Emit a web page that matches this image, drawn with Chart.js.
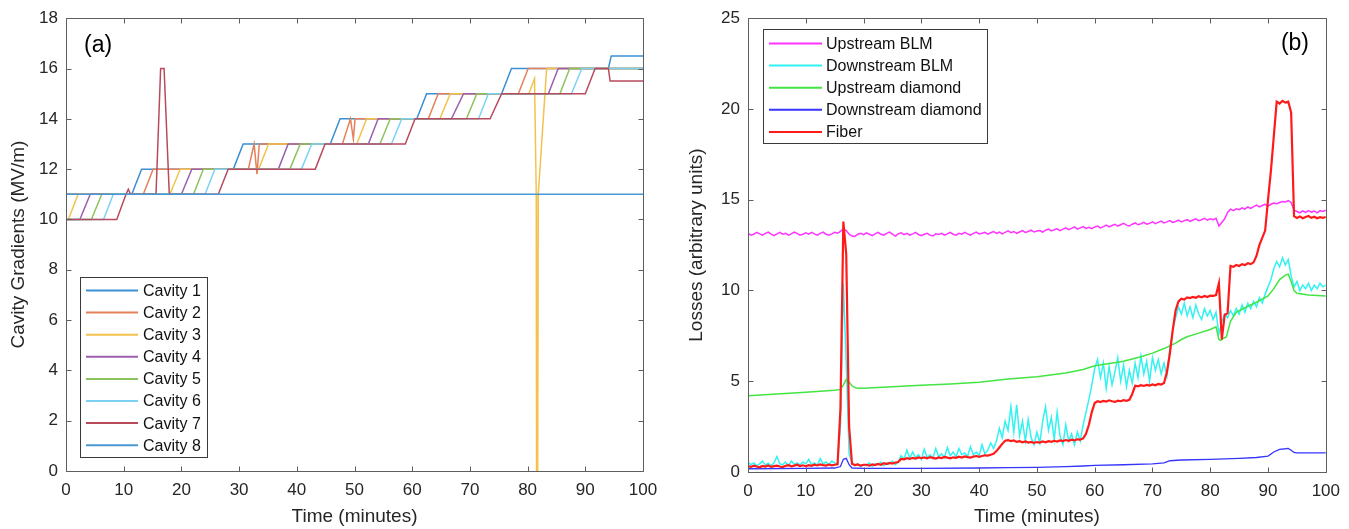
<!DOCTYPE html>
<html><head><meta charset="utf-8">
<script src="https://cdn.jsdelivr.net/npm/chart.js@4.4.1/dist/chart.umd.min.js"></script>
<style>
html,body{margin:0;padding:0;background:#fff;}
#wrap{position:relative;width:1349px;height:529px;overflow:hidden;background:#fff;}
canvas{position:absolute;top:0;}
#c1{left:0;} #c2{left:674px;}
</style></head><body>
<div id="wrap"><canvas id="c1" width="674" height="529"></canvas><canvas id="c2" width="675" height="529"></canvas></div>
<script>
// ---------- Panel (a): cavity gradients ----------
const cavityLabels = ['Cavity 1','Cavity 2','Cavity 3','Cavity 4','Cavity 5','Cavity 6','Cavity 7','Cavity 8'];
const cav1Time = [0,11.4,13.1,29.0,30.7,45.8,47.5,60.8,62.5,75.5,77.2,94.0,94.5,100];
const cav1Grad = [11,11,12,12,13,13,14,14,15,15,16,16,16.5,16.5];
const cav2Time = [0,13.4,15.1,31.6,32.6,33.1,33.5,47.9,49.3,49.8,50.1,62.8,64.5,78.4,80.1,100];
const cav2Grad = [11,11,12,12,13,11.8,13,13,14,13.2,14,14,15,15,16,16];
const cav3Time = [0,0.4,2.1,18.0,19.8,33.4,35.1,50.4,52.1,64.8,66.6,80.2,81.2,81.5,81.55,81.75,81.85,83.3,100];
const cav3Grad = [10,10,11,11,12,12,13,13,14,14,15,15,15.6,11,0,0,11,16,16];
const cav4Time = [0,2.4,4.2,20.0,21.8,36.8,38.5,52.4,54.1,66.8,68.9,83.6,85.3,100];
const cav4Grad = [10,10,11,11,12,12,13,13,14,14,15,15,16,16];
const cav5Time = [0,4.4,6.2,22.1,23.8,38.8,40.6,54.4,56.2,69.4,71.2,85.6,87.3,100];
const cav5Grad = [10,10,11,11,12,12,13,13,14,14,15,15,16,16];
const cav6Time = [0,6.5,8.2,24.1,25.8,40.8,42.6,56.4,58.2,71.5,73.2,87.6,89.4,100];
const cav6Grad = [10,10,11,11,12,12,13,13,14,14,15,15,16,16];
const cav7Time = [0,8.8,10.4,10.8,11.2,15.6,16.4,17.0,17.9,26.4,28.1,43.2,44.9,58.8,60.5,73.5,75.5,90.0,91.7,94.0,94.3,100];
const cav7Grad = [10,10,11,11.2,11,11,16,16,11,11,12,12,13,13,14,14,15,15,16,16,15.5,15.5];
const cav8Time = [0,100];
const cav8Grad = [11,11];
const cavityColors = ['#3b8fd3','#e5805a','#f3c24e','#9c5fae','#8dc35c','#7dd2f4','#b84a5c','#4898d6'];
const gradTicksMin = 0, gradTicksMax = 18, gradTickStep = 2;

// ---------- Panel (b): losses ----------
const lossLabels = ['Upstream BLM','Downstream BLM','Upstream diamond','Downstream diamond','Fiber'];
const lossTime = [
0,0.5,1,1.5,2,2.5,3,3.5,4,4.5,5,5.5,6,6.5,7,7.5,8,8.5,9,9.5,10,
10.5,11,11.5,12,12.5,13,13.5,14,14.5,15,15.5,16,16.5,17,17.5,18,18.5,19,19.5,20,
20.5,21,21.5,22,22.5,23,23.5,24,24.5,25,25.5,26,26.5,27,27.5,28,28.5,29,29.5,30,
30.5,31,31.5,32,32.5,33,33.5,34,34.5,35,35.5,36,36.5,37,37.5,38,38.5,39,39.5,40,
40.5,41,41.5,42,42.5,43,43.5,44,44.5,45,45.5,46,46.5,47,47.5,48,48.5,49,49.5,50,
50.5,51,51.5,52,52.5,53,53.5,54,54.5,55,55.5,56,56.5,57,57.5,58,58.5,59,59.5,60,
60.5,61,61.5,62,62.5,63,63.5,64,64.5,65,65.5,66,66.5,67,67.5,68,68.5,69,69.5,70,
70.5,71,71.5,72,72.5,73,73.5,74,74.5,75,75.5,76,76.5,77,77.5,78,78.5,79,79.5,80,
80.5,81,81.5,82,82.5,83,83.5,84,84.5,85,85.5,86,86.5,87,87.5,88,88.5,89,89.5,90,
90.5,91,91.5,92,92.5,93,93.5,94,94.5,95,95.5,96,96.5,97,97.5,98,98.5,99,99.5,100];
const upstreamBLM = [
13.15,13.05,13.1,13.2,13.12,13.05,13.15,13.22,13.1,13.02,13.12,13.2,13.1,13.15,13.05,13.12,13.22,13.15,13.05,13.1,13.18,
13.1,13.2,13.12,13.05,13.15,13.22,13.1,13.05,13.12,13.2,13.15,13.25,13.4,13.3,13.1,13.0,12.98,13.1,13.15,13.08,
13.18,13.1,13.02,13.12,13.2,13.1,13.05,13.15,13.22,13.1,13.0,13.12,13.18,13.08,13.15,13.05,13.12,13.2,13.08,13.02,
13.1,13.15,13.05,13.0,13.12,13.08,13.15,13.05,13.12,13.2,13.1,13.05,13.15,13.1,13.2,13.12,13.05,13.15,13.22,13.12,
13.15,13.2,13.1,13.18,13.25,13.15,13.22,13.12,13.2,13.28,13.18,13.25,13.15,13.22,13.3,13.2,13.25,13.32,13.22,13.28,
13.3,13.22,13.32,13.38,13.28,13.35,13.4,13.3,13.38,13.45,13.35,13.42,13.5,13.38,13.45,13.52,13.42,13.48,13.4,13.5,
13.55,13.45,13.52,13.6,13.5,13.58,13.65,13.55,13.62,13.7,13.6,13.55,13.65,13.72,13.62,13.68,13.75,13.65,13.7,13.78,
13.68,13.75,13.82,13.72,13.78,13.85,13.75,13.8,13.88,13.78,13.85,13.9,13.8,13.88,13.95,13.85,13.9,13.98,13.88,13.95,
13.9,13.98,13.55,13.75,13.95,14.3,14.48,14.4,14.5,14.45,14.55,14.48,14.6,14.52,14.62,14.7,14.6,14.68,14.75,14.65,
14.75,14.82,14.78,14.85,14.9,14.88,14.95,14.85,14.42,14.35,14.28,14.38,14.3,14.4,14.32,14.38,14.28,14.4,14.35,14.42];
const downstreamBLM = [
0.55,0.4,0.5,0.35,0.45,0.6,0.38,0.48,0.35,0.5,0.85,0.45,0.4,0.55,0.35,0.6,0.42,0.5,0.38,0.55,0.45,
0.7,0.4,0.5,0.38,0.75,0.45,0.55,0.4,0.6,0.5,0.45,2.5,10.4,6.0,1.0,0.5,0.35,0.45,0.3,0.4,
0.35,0.5,0.3,0.45,0.4,0.55,0.35,0.5,0.45,0.6,0.4,0.55,0.9,0.7,1.2,0.75,1.1,0.8,0.95,0.7,
1.25,0.8,0.95,0.75,1.3,0.85,1.0,0.8,1.35,0.9,1.1,0.85,1.3,0.95,1.05,0.85,1.4,0.95,1.1,0.9,
1.5,1.0,1.2,1.6,1.3,1.7,2.4,1.9,2.8,2.3,3.6,2.2,3.7,2.0,2.8,1.7,2.9,1.9,1.5,2.2,
1.6,2.8,3.6,2.3,3.0,1.8,3.3,2.0,1.5,2.6,1.7,2.1,1.5,2.2,1.7,2.6,3.3,4.0,4.8,5.7,
6.2,5.2,6.0,4.6,5.8,4.8,5.5,6.3,5.0,5.9,4.7,5.6,4.9,6.0,5.2,6.4,5.4,6.1,5.0,6.3,
5.6,6.2,5.4,6.0,5.3,6.8,7.8,8.5,9.1,8.7,9.3,8.6,9.1,8.5,9.2,8.7,8.4,9.0,8.6,8.9,
8.4,8.8,7.6,8.3,8.7,8.5,8.9,8.6,9.0,8.7,9.2,8.8,9.3,9.0,9.4,9.1,9.6,9.3,9.8,10.2,
10.6,11.2,11.6,11.3,11.8,11.4,11.7,10.8,10.2,10.5,10.0,10.3,10.1,10.4,10.0,10.3,10.1,10.4,10.2,10.3];
const fiber = [
0.32,0.28,0.35,0.3,0.26,0.33,0.3,0.36,0.28,0.32,0.35,0.3,0.27,0.34,0.38,0.31,0.35,0.4,0.33,0.37,0.32,
0.38,0.34,0.4,0.36,0.42,0.38,0.35,0.41,0.37,0.4,0.42,3.5,13.8,12.0,2.5,0.45,0.38,0.42,0.35,0.4,
0.4,0.35,0.42,0.38,0.45,0.4,0.48,0.44,0.5,0.46,0.52,0.55,0.72,0.7,0.76,0.72,0.78,0.74,0.8,0.76,
0.8,0.75,0.82,0.78,0.74,0.8,0.77,0.83,0.79,0.75,0.81,0.78,0.84,0.8,0.86,0.82,0.79,0.85,0.88,0.84,
0.88,0.92,0.9,0.95,1.0,1.15,1.35,1.55,1.72,1.75,1.7,1.74,1.66,1.7,1.64,1.68,1.62,1.66,1.6,1.65,
1.62,1.68,1.64,1.7,1.66,1.72,1.68,1.74,1.7,1.76,1.72,1.78,1.74,1.8,1.78,1.85,2.1,2.6,3.3,3.8,
3.9,3.85,3.92,3.88,3.95,3.9,3.86,3.93,3.9,3.96,3.92,3.98,4.3,4.75,4.72,4.78,4.74,4.8,4.76,4.82,
4.78,4.85,4.82,4.9,5.5,6.5,7.8,8.9,9.4,9.55,9.5,9.62,9.58,9.65,9.6,9.68,9.62,9.7,9.64,9.72,
9.7,9.75,10.4,7.3,8.65,8.75,11.35,11.3,11.4,11.35,11.45,11.4,11.5,11.45,11.55,11.9,12.5,12.9,13.3,15.0,
16.6,18.5,20.4,20.3,20.45,20.35,20.4,19.8,14.1,14.0,14.08,13.98,14.05,14.1,14.0,14.06,13.98,14.04,14.0,14.05];
const upDiamondTime = [0,5,10,15,16,16.5,17,17.5,18,18.5,19,20,25,30,35,40,45,50,55,58,60,62,65,68,70,72,74,75,76,78,80,81,81.5,81.8,82.2,82.8,83.5,84.5,86,88,90,91,92,93,93.5,94,94.5,95,97,100];
const upDiamond = [4.2,4.3,4.4,4.5,4.55,4.8,5.1,4.95,4.75,4.65,4.62,4.62,4.7,4.78,4.85,4.95,5.12,5.25,5.45,5.65,5.85,5.95,6.1,6.35,6.55,6.8,7.1,7.3,7.45,7.65,7.85,8.0,7.3,7.25,7.35,7.45,8.3,8.8,9.05,9.35,9.7,10.1,10.6,10.85,10.9,10.5,10.0,9.85,9.75,9.7];
const downDiamondTime = [0,10,15,16,16.5,17,17.5,18,20,30,40,45,50,55,58,60,65,70,72,73,75,80,85,88,90,91,92,93,93.5,94,94.5,95,100];
const downDiamond = [0.18,0.2,0.22,0.3,0.7,0.75,0.4,0.22,0.2,0.2,0.22,0.24,0.26,0.3,0.33,0.36,0.4,0.45,0.5,0.62,0.66,0.7,0.75,0.8,0.88,1.1,1.25,1.28,1.3,1.2,1.08,1.05,1.05];
const lossColors = ['#ff33ff','#33f2f2','#44e444','#3535ff','#ff1a1a'];
const lossTicksMin = 0, lossTicksMax = 25, lossTickStep = 5;
const timeMin = 0, timeMax = 100, timeStep = 10;

// ---------- helpers ----------
const FONT = "'Liberation Sans', Arial, Helvetica, sans-serif";
Chart.defaults.font.family = FONT;
function pts(ts, vs){ return ts.map((t,i)=>({x:t, y:vs[i]})); }

const decor = {
  id: 'decor',
  afterDatasetsDraw(chart, args, o) {
    const ctx = chart.ctx, a = chart.chartArea, sx = chart.scales.x, sy = chart.scales.y;
    ctx.save();
    // frame box
    ctx.strokeStyle = '#5e5e5e'; ctx.lineWidth = 1;
    const L = Math.round(a.left)+0.5, T = Math.round(a.top)+0.5, R = Math.round(a.right)+0.5, B = Math.round(a.bottom)+0.5;
    ctx.beginPath(); ctx.moveTo(L,T); ctx.lineTo(R,T); ctx.lineTo(R,B); ctx.lineTo(L,B); ctx.closePath(); ctx.stroke();
    // inward ticks
    const tl = 5;
    ctx.beginPath();
    sx.ticks.forEach(t => { const p = Math.round(sx.getPixelForValue(t.value))+0.5; ctx.moveTo(p,B); ctx.lineTo(p,B-tl); ctx.moveTo(p,T); ctx.lineTo(p,T+tl); });
    sy.ticks.forEach(t => { const p = Math.round(sy.getPixelForValue(t.value))+0.5; ctx.moveTo(L,p); ctx.lineTo(L+tl,p); ctx.moveTo(R,p); ctx.lineTo(R-tl,p); });
    ctx.stroke();
    // legend
    const lg = o.legend;
    ctx.fillStyle = '#fff'; ctx.fillRect(lg.x, lg.y, lg.w, lg.h);
    ctx.strokeStyle = '#3a3a3a'; ctx.lineWidth = 1; ctx.strokeRect(lg.x+0.5, lg.y+0.5, lg.w, lg.h);
    ctx.font = '16px ' + FONT; ctx.textBaseline = 'middle'; ctx.textAlign = 'left';
    chart.data.datasets.forEach((d,i) => {
      const y = lg.row0 + i*lg.dy;
      ctx.strokeStyle = d.borderColor; ctx.lineWidth = 2;
      ctx.beginPath(); ctx.moveTo(lg.lx0, y); ctx.lineTo(lg.lx1, y); ctx.stroke();
      ctx.fillStyle = '#111'; ctx.fillText(d.label, lg.tx, y+1);
    });
    // panel tag
    ctx.fillStyle = '#000'; ctx.font = '23px ' + FONT; ctx.textAlign = o.tag.align; ctx.textBaseline = 'middle';
    ctx.fillText(o.tag.text, o.tag.x, o.tag.y);
    // axis titles
    ctx.fillStyle = '#262626'; ctx.font = '19px ' + FONT; ctx.textAlign = 'center'; ctx.textBaseline = 'middle';
    ctx.fillText(o.xTitle, (a.left+a.right)/2, o.xTitleY);
    ctx.save(); ctx.translate(o.yTitleX, (a.top+a.bottom)/2); ctx.rotate(-Math.PI/2);
    ctx.fillText(o.yTitle, 0, 0); ctx.restore();
    ctx.restore();
  }
};

function scalesCfg(ymin, ymax, ystep, yWidth, xHeight) {
  return {
    x: { type:'linear', min:timeMin, max:timeMax,
         ticks:{ stepSize:timeStep, color:'#262626', font:{size:17}, padding:9, maxRotation:0, autoSkip:false },
         grid:{ display:false, drawTicks:false }, border:{ display:false },
         afterFit(s){ s.height = xHeight; } },
    y: { type:'linear', min:ymin, max:ymax,
         ticks:{ stepSize:ystep, color:'#262626', font:{size:17}, padding:8, autoSkip:false },
         grid:{ display:false, drawTicks:false }, border:{ display:false },
         afterFit(s){ s.width = yWidth; } }
  };
}

// ---------- chart (a) ----------
const cavTimes = [cav1Time,cav2Time,cav3Time,cav4Time,cav5Time,cav6Time,cav7Time,cav8Time];
const cavGrads = [cav1Grad,cav2Grad,cav3Grad,cav4Grad,cav5Grad,cav6Grad,cav7Grad,cav8Grad];
new Chart(document.getElementById('c1'), {
  type: 'line',
  data: { datasets: cavityLabels.map((lab,i) => ({
    label: lab, data: pts(cavTimes[i], cavGrads[i]), borderColor: cavityColors[i],
    borderWidth: 1.5, pointRadius: 0, tension: 0, fill: false, order: 8 - i
  })) },
  options: {
    responsive:false, animation:false, devicePixelRatio:1,
    layout:{ padding:{ left:0, top:15, right:31, bottom:0 } },
    scales: scalesCfg(gradTicksMin, gradTicksMax, gradTickStep, 66, 58),
    plugins: { legend:{display:false}, tooltip:{enabled:false},
      decor: { xTitle:'Time (minutes)', xTitleY:517, yTitle:'Cavity Gradients (MV/m)', yTitleX:19,
               tag:{ text:'(a)', x:84, y:46, align:'left' },
               legend:{ x:80, y:277, w:127, h:180, row0:290.5, dy:22.1, lx0:86, lx1:138, tx:143 } } }
  },
  plugins:[decor]
});

// ---------- chart (b) ----------
const lossSets = [
  pts(lossTime, upstreamBLM),
  pts(lossTime, downstreamBLM),
  pts(upDiamondTime, upDiamond),
  pts(downDiamondTime, downDiamond),
  pts(lossTime, fiber)
];
const lossWidths = [1.5,1.5,1.5,1.3,2.2];
new Chart(document.getElementById('c2'), {
  type: 'line',
  data: { datasets: lossLabels.map((lab,i) => ({
    label: lab, data: lossSets[i], borderColor: lossColors[i],
    borderWidth: lossWidths[i], pointRadius: 0, tension: 0, fill: false, order: 5 - i
  })) },
  options: {
    responsive:false, animation:false, devicePixelRatio:1,
    layout:{ padding:{ left:0, top:16, right:23, bottom:0 } },
    scales: scalesCfg(lossTicksMin, lossTicksMax, lossTickStep, 74, 57),
    plugins: { legend:{display:false}, tooltip:{enabled:false},
      decor: { xTitle:'Time (minutes)', xTitleY:517, yTitle:'Losses (arbitrary units)', yTitleX:23,
               tag:{ text:'(b)', x:635, y:44, align:'right' },
               legend:{ x:89, y:29, w:224, h:114, row0:43.5, dy:22.1, lx0:95, lx1:148, tx:152 } } }
  },
  plugins:[decor]
});
</script>
</body></html>
